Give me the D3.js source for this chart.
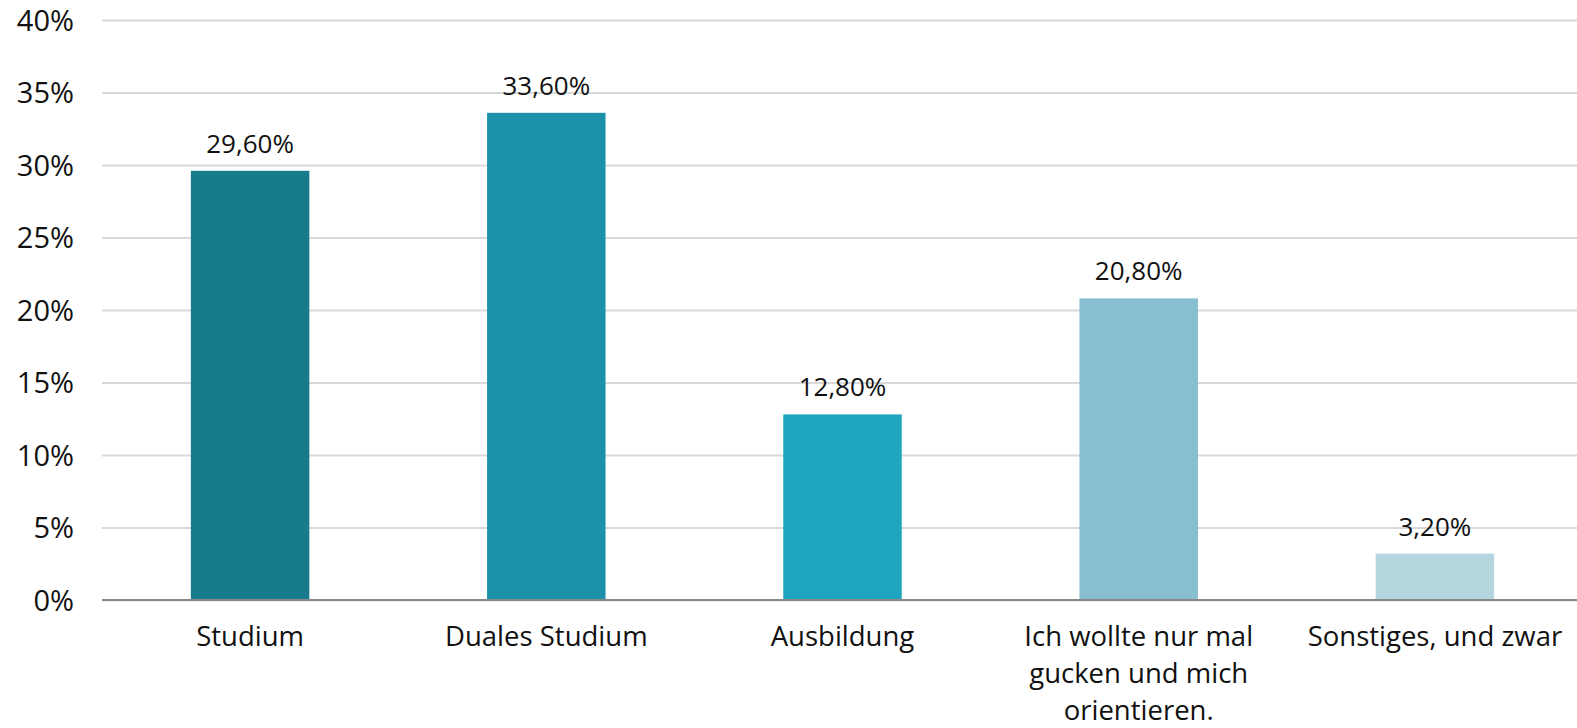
<!DOCTYPE html>
<html>
<head>
<meta charset="utf-8">
<script src="https://cdn.jsdelivr.net/npm/d3@7"></script>
<style>
  body { margin: 0; background: #fff; }
  svg text { font-family: "Open Sans", "Noto Sans", sans-serif; fill: #111; }
</style>
</head>
<body>
<div id="chart"></div>
<script>

// data
var categories = ["Studium", "Duales Studium", "Ausbildung", "Ich wollte nur mal gucken und mich orientieren.", "Sonstiges, und zwar"];
var categoryLines = [["Studium"], ["Duales Studium"], ["Ausbildung"], ["Ich wollte nur mal", "gucken und mich", "orientieren."], ["Sonstiges, und zwar"]];
var values = [29.6, 33.6, 12.8, 20.8, 3.2];
var barColors = ["#177b8c", "#1b92a9", "#1fa5bf", "#87bed0", "#b5d5df"];
var yTicks = [0, 5, 10, 15, 20, 25, 30, 35, 40];

// size of the svg and margins
var width = 1577,
    height = 728,
    margin = {top: 20, right: -6, bottom: 128, left: 102};

var svg = d3.select("#chart")
    .append("svg")
    .attr("width", width)
    .attr("height", height);

// x scale for the bars
var xScale = d3.scaleBand()
    .domain(categories)
    .range([margin.left, width - margin.right])
    .paddingInner(0.6)
    .paddingOuter(0.3);

// y scale in percent
var yScale = d3.scaleLinear()
    .domain([0, 40])
    .range([height - margin.bottom, margin.top]);

// gridlines + tick labels
var yAxis = d3.axisLeft(yScale)
    .tickValues(yTicks)
    .tickSize(-(width - margin.left))
    .tickPadding(28)
    .tickFormat(function(d) { return d + "%"; });

var gY = svg.append("g")
    .attr("transform", "translate(" + margin.left + ",0)")
    .call(yAxis);

gY.select(".domain").remove();
gY.selectAll(".tick line")
    .attr("stroke", "#d9d9d9")
    .attr("stroke-width", 2);
gY.selectAll(".tick text")
    .attr("font-size", "29px")
    .attr("fill", "#111")
    .attr("dy", "0.36em");

// bars
svg.selectAll(".bar")
    .data(values)
    .enter()
    .append("rect")
    .attr("class", "bar")
    .attr("x", function(d, i) { return xScale(categories[i]); })
    .attr("y", function(d) { return yScale(d); })
    .attr("width", xScale.bandwidth())
    .attr("height", function(d) { return yScale(0) - yScale(d); })
    .attr("fill", function(d, i) { return barColors[i]; });

// baseline
svg.append("line")
    .attr("x1", margin.left)
    .attr("x2", width)
    .attr("y1", yScale(0))
    .attr("y2", yScale(0))
    .attr("stroke", "#888")
    .attr("stroke-width", 2);

// value labels above the bars
svg.selectAll(".valuelabel")
    .data(values)
    .enter()
    .append("text")
    .attr("class", "valuelabel")
    .attr("x", function(d, i) { return xScale(categories[i]) + xScale.bandwidth() / 2; })
    .attr("y", function(d) { return yScale(d) - 18; })
    .attr("text-anchor", "middle")
    .attr("font-size", "26px")
    .text(function(d) { return d.toFixed(2).replace(".", ",") + "%"; });

// category labels under the axis
var catLabels = svg.selectAll(".catlabel")
    .data(categoryLines)
    .enter()
    .append("text")
    .attr("class", "catlabel")
    .attr("text-anchor", "middle")
    .attr("font-size", "27.5px")
    .attr("transform", function(d, i) {
      return "translate(" + (xScale(categories[i]) + xScale.bandwidth() / 2) + "," + (yScale(0) + 46) + ")";
    });

catLabels.selectAll("tspan")
    .data(function(d) { return d; })
    .enter()
    .append("tspan")
    .attr("x", 0)
    .attr("y", function(d, i) { return i * 37; })
    .text(function(d) { return d; });

</script>
</body>
</html>
